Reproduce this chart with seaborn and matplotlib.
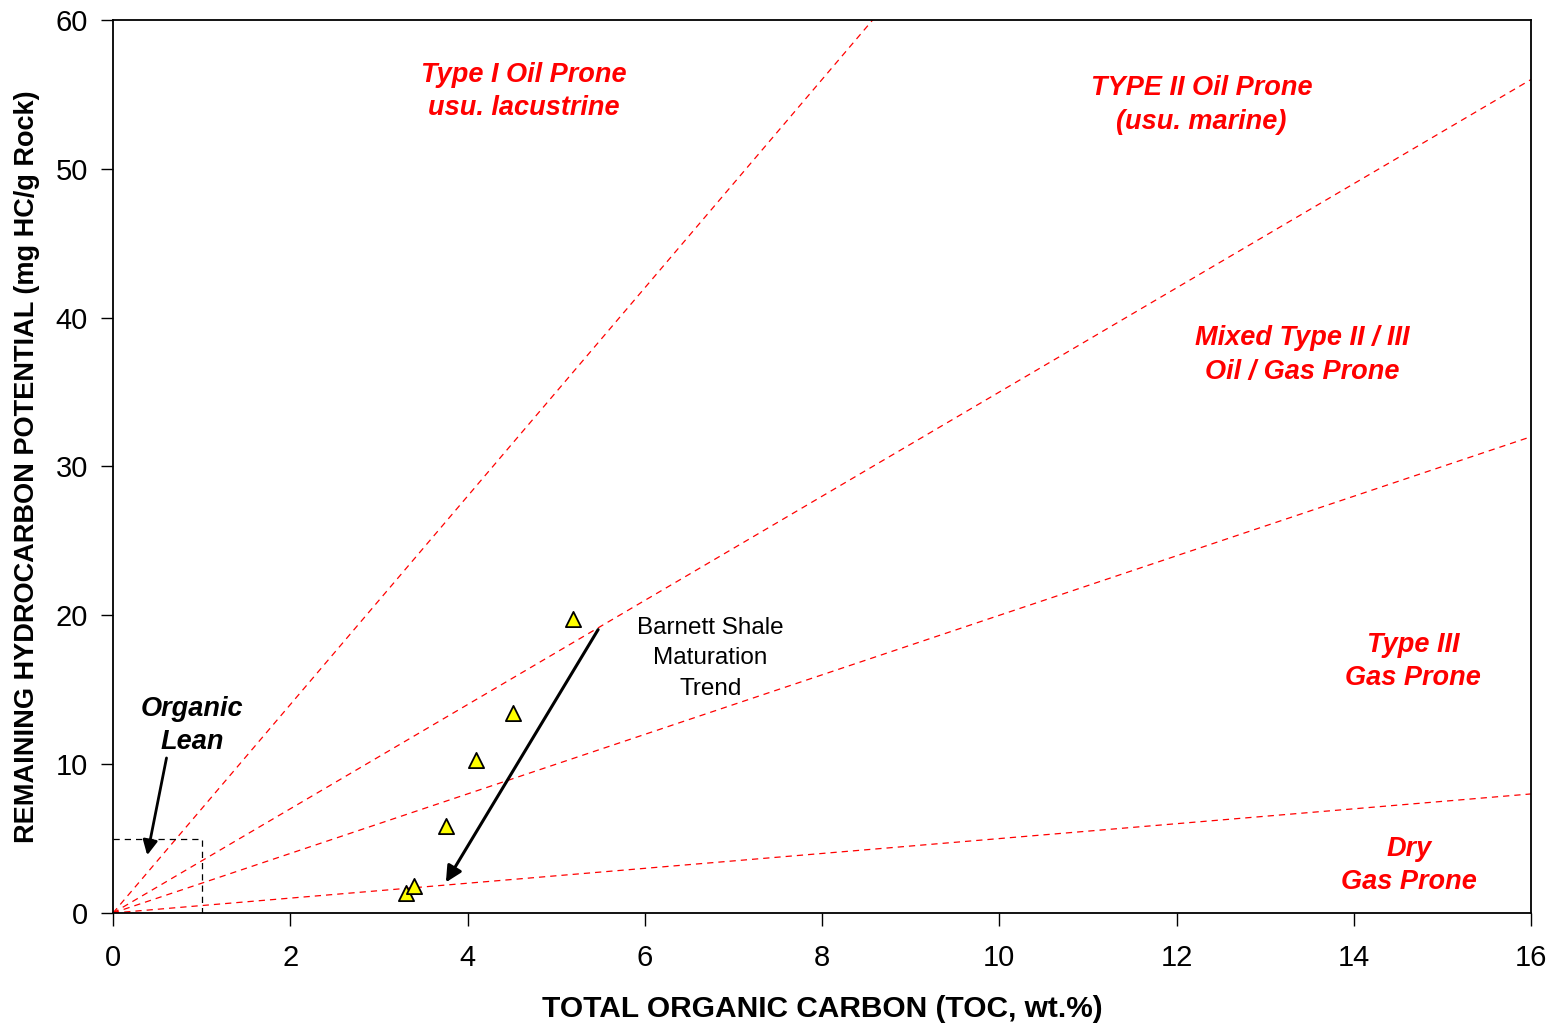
import matplotlib
matplotlib.use("Agg")
import matplotlib.pyplot as plt
import seaborn as sns
import numpy as np
import pandas as pd

sns.set_theme(style="white")
plt.rcParams['font.family'] = ['Liberation Sans', 'DejaVu Sans']

# Data
toc = [3.31, 3.40, 3.76, 4.10, 4.51, 5.19]
s2 = [1.34, 1.81, 5.85, 10.28, 13.44, 19.75]
hi_slopes = [7.0, 3.5, 2.0, 0.5]  # HI/100 boundary lines
x_ticks = [0, 2, 4, 6, 8, 10, 12, 14, 16]
y_ticks = [0, 10, 20, 30, 40, 50, 60]

zone_labels = ["Type I Oil Prone\nusu. lacustrine", "TYPE II Oil Prone\n(usu. marine)",
               "Mixed Type II / III\nOil / Gas Prone", "Type III\nGas Prone", "Dry\nGas Prone"]
zone_x = [4.63, 12.28, 13.42, 14.67, 14.62]
zone_y = [55.2, 54.3, 37.5, 16.9, 3.2]

df = pd.DataFrame({"toc": toc, "s2": s2})

fig = plt.figure(figsize=(15.52, 10.24), dpi=100)
ax = fig.add_axes([0.0728, 0.1084, 0.9137, 0.8721])

xs = np.array([0, 16])
for m in hi_slopes:
    ax.plot(xs, m * xs, color="red", ls=(0, (5, 4)), lw=0.9, zorder=1)

# organic lean box
ax.plot([0, 1, 1], [5, 5, 0], color="black", ls=(0, (5, 4)), lw=0.9, zorder=1)

sns.scatterplot(data=df, x="toc", y="s2", marker="^", s=120, color="yellow",
                edgecolor="black", linewidth=1.3, ax=ax, zorder=3)

for lab, xx, yy in zip(zone_labels, zone_x, zone_y):
    ax.text(xx, yy, lab, color="red", fontsize=19.5, fontweight="bold", fontstyle="italic",
            ha="center", va="center", linespacing=1.38)

ax.text(0.89, 12.6, "Organic\nLean", color="black", fontsize=19.5, fontweight="bold",
        fontstyle="italic", ha="center", va="center", linespacing=1.38)
ax.annotate("", xy=(0.38, 3.7), xytext=(0.61, 10.6),
            arrowprops=dict(arrowstyle="-|>", color="black", lw=2, mutation_scale=22))

ax.text(6.74, 17.1, "Barnett Shale\nMaturation\nTrend", color="black", fontsize=17.5,
        ha="center", va="center", linespacing=1.52)
ax.annotate("", xy=(3.74, 1.9), xytext=(5.49, 19.2),
            arrowprops=dict(arrowstyle="-|>", color="black", lw=2.2, mutation_scale=24))

ax.set_xlim(0, 16)
ax.set_ylim(0, 60)
ax.set_xticks(x_ticks)
ax.set_yticks(y_ticks)
ax.tick_params(axis="both", direction="out", length=9, width=1.0, labelsize=21,
               bottom=True, left=True, colors="black")
ax.tick_params(axis="x", pad=13)
ax.tick_params(axis="y", pad=9)
for sp in ax.spines.values():
    sp.set_color("black")
    sp.set_linewidth(1.3)
ax.set_xlabel("TOTAL ORGANIC CARBON (TOC, wt.%)", fontsize=21.5, fontweight="bold",
              labelpad=17, color="black")
ax.set_ylabel("REMAINING HYDROCARBON POTENTIAL (mg HC/g Rock)", fontsize=19.5,
              fontweight="bold", labelpad=11, color="black")

fig.savefig("out.png", dpi=100)
